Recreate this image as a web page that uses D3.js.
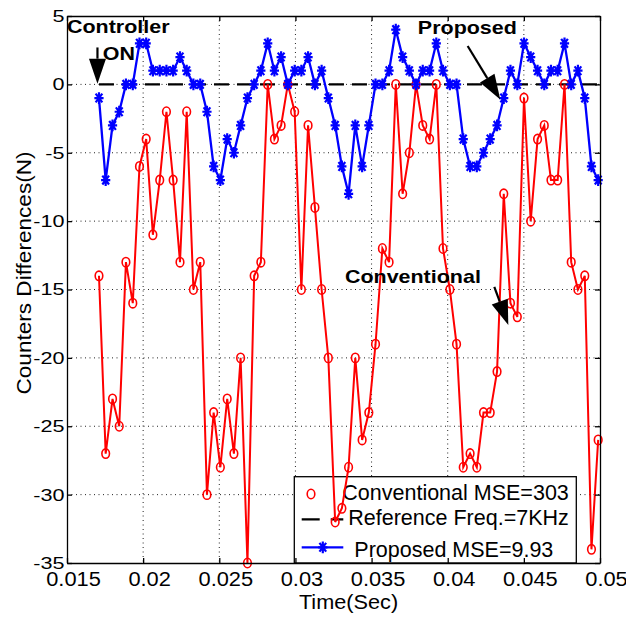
<!DOCTYPE html>
<html>
<head>
<meta charset="utf-8">
<script src="https://cdn.jsdelivr.net/npm/d3@7"></script>
<style>
  body { margin: 0; background: #fff; }
  svg text { font-family: "Liberation Sans", Arial, sans-serif; fill: #000; }
</style>
</head>
<body>
<svg id="chart"></svg>
<script>
const timeSec = [
  0.01710, 0.01754, 0.01799, 0.01843, 0.01887, 0.01932, 0.01976, 0.02020, 0.02064, 0.02109,
  0.02153, 0.02197, 0.02242, 0.02286, 0.02330, 0.02375, 0.02419, 0.02463, 0.02507, 0.02552,
  0.02596, 0.02640, 0.02685, 0.02729, 0.02773, 0.02818, 0.02862, 0.02906, 0.02950, 0.02995,
  0.03039, 0.03083, 0.03128, 0.03172, 0.03216, 0.03261, 0.03305, 0.03349, 0.03393, 0.03438,
  0.03482, 0.03526, 0.03571, 0.03615, 0.03659, 0.03704, 0.03748, 0.03792, 0.03836, 0.03881,
  0.03925, 0.03969, 0.04014, 0.04058, 0.04102, 0.04147, 0.04191, 0.04235, 0.04279, 0.04324,
  0.04368, 0.04412, 0.04457, 0.04501, 0.04545, 0.04590, 0.04634, 0.04678, 0.04722, 0.04767,
  0.04811, 0.04855, 0.04900, 0.04944, 0.04988
];

const conventional = [
  -14, -27, -23, -25, -13, -16, -6, -4, -11, -7,
  -2, -7, -13, -2, -15, -13, -30, -24, -28, -23,
  -27, -20, -35, -14, -13, 0, -4, -3, 0, -2,
  -15, -3, -9, -15, -20, -32, -31, -28, -20, -26,
  -24, -19, -12, -13, 0, -8, -5, 0, -3, -4,
  0, -12, -15, -19, -28, -27, -28, -24, -24, -21,
  -8, -16, -17, -1, -10, -4, -3, -7, -7, 0,
  -13, -15, -14, -34, -26
];

const proposed = [
  -1, -7, -3, -2, 0, 0, 3, 3, 1, 1,
  1, 1, 2, 1, 0, 0, -2, -6, -7, -4,
  -5, -3, -1, 0, 1, 3, 1, 2, 0, 1,
  1, 2, 0, 1, -1, -3, -6, -8, -3, -6,
  -3, 0, 0, 1, 4, 2, 1, 0, 1, 1,
  3, 1, 0, 0, -4, -6, -6, -5, -4, -3,
  -1, 1, 0, 3, 2, 1, 0, 1, 1, 3,
  0, 1, -1, -6, -7
];

const refTime = [0.0171, 0.0499];
const refLevel = [0, 0];

const xTicks = [0.015, 0.02, 0.025, 0.03, 0.035, 0.04, 0.045, 0.05];
const yTicks = [5, 0, -5, -10, -15, -20, -25, -30, -35];
const legendLabels = ['Conventional MSE=303', 'Reference Freq.=7KHz', 'Proposed MSE=9.93'];

const chartSize = {width: 626, height: 617};
const margin = {left: 67, right: 26, top: 16, bottom: 54};
const width = chartSize.width - margin.left - margin.right;
const height = chartSize.height - margin.top - margin.bottom;

// MATLAB style '*' marker
const starSymbol = {
  draw(context, size) {
    const r = Math.sqrt(size) / 2;
    context.moveTo(0, -r * 1.4); context.lineTo(0, r * 1.4);
    context.moveTo(-r * 1.1, 0); context.lineTo(r * 1.1, 0);
    context.moveTo(-r * 0.8, -r * 1.05); context.lineTo(r * 0.8, r * 1.05);
    context.moveTo(-r * 0.8, r * 1.05); context.lineTo(r * 0.8, -r * 1.05);
  }
};

const addLabel = (g, text, x, y, {size = 21, sx = 1, weight = 'normal', anchor = 'start', rotate = 0} = {}) =>
  g.append('text')
      .attr('transform', `translate(${x},${y}) rotate(${rotate}) scale(${sx},1)`)
      .attr('font-size', size)
      .attr('font-weight', weight)
      .attr('text-anchor', anchor)
      .text(text);

const drawArrow = (g, x, y, from, to) => {
  const x0 = x(from[0]), y0 = y(from[1]), x1 = x(to[0]), y1 = y(to[1]);
  const len = Math.hypot(x1 - x0, y1 - y0);
  const ux = (x1 - x0) / len, uy = (y1 - y0) / len;
  const headLen = 25, headHalf = 8.5;
  const bx = x1 - ux * headLen, by = y1 - uy * headLen;
  g.append('line')
      .attr('x1', x0).attr('y1', y0).attr('x2', bx).attr('y2', by)
      .attr('stroke', '#000').attr('stroke-width', 2.2);
  g.append('path')
      .attr('d', `M${x1},${y1}L${bx - uy * headHalf},${by + ux * headHalf}L${bx + uy * headHalf},${by - ux * headHalf}Z`)
      .attr('fill', '#000');
};

const drawChart = () => {
  const svg = d3.select('#chart')
      .attr('width', chartSize.width)
      .attr('height', chartSize.height);

  const g = svg.append('g')
      .attr('transform', `translate(${margin.left},${margin.top})`);

  const x = d3.scaleLinear().domain([0.015, 0.05]).range([0, width]);
  const y = d3.scaleLinear().domain([-35, 5]).range([height, 0]);

  // dotted grid
  g.append('g')
      .attr('class', 'grid')
      .selectAll('line.gx')
      .data(xTicks.slice(1, -1))
      .join('line')
      .attr('x1', d => x(d)).attr('x2', d => x(d))
      .attr('y1', 0).attr('y2', height);
  g.select('.grid')
      .selectAll('line.gy')
      .data(yTicks.slice(1, -1))
      .join('line')
      .attr('class', 'gy')
      .attr('x1', 0).attr('x2', width)
      .attr('y1', d => y(d)).attr('y2', d => y(d));
  g.selectAll('.grid line')
      .attr('stroke', '#222')
      .attr('stroke-width', 1)
      .attr('stroke-dasharray', '1,3.5');

  // legend box sits under the data
  const legend = g.append('g')
      .attr('transform', `translate(${294.3 - margin.left},${476.7 - margin.top})`);
  legend.append('rect')
      .attr('width', 282).attr('height', height - (476.7 - margin.top))
      .attr('fill', '#fff').attr('stroke', '#000').attr('stroke-width', 1.3);

  // reference
  const refLine = d3.line().x((d, i) => x(refTime[i])).y(d => y(d));
  g.append('path')
      .attr('d', refLine(refLevel))
      .attr('fill', 'none').attr('stroke', '#000')
      .attr('stroke-width', 2.2).attr('stroke-dasharray', '15,8');

  // conventional
  const line = d3.line().x((d, i) => x(timeSec[i])).y(d => y(d));
  g.append('path')
      .attr('d', line(conventional))
      .attr('fill', 'none').attr('stroke', '#ff0000').attr('stroke-width', 2);
  g.append('g')
      .selectAll('ellipse')
      .data(conventional)
      .join('ellipse')
      .attr('cx', (d, i) => x(timeSec[i]))
      .attr('cy', d => y(d))
      .attr('rx', 3.8).attr('ry', 4.7)
      .attr('fill', 'none').attr('stroke', '#ff0000').attr('stroke-width', 1.6);

  // proposed
  const star = d3.symbol().type(starSymbol).size(70);
  g.append('path')
      .attr('d', line(proposed))
      .attr('fill', 'none').attr('stroke', '#0000ff').attr('stroke-width', 2.3);
  g.append('g')
      .selectAll('path')
      .data(proposed)
      .join('path')
      .attr('transform', (d, i) => `translate(${x(timeSec[i])},${y(d)})`)
      .attr('d', star())
      .attr('fill', 'none').attr('stroke', '#0000ff').attr('stroke-width', 2.2);

  // axes (box with inward ticks)
  const xAxis = g.append('g')
      .attr('transform', `translate(0,${height})`)
      .call(d3.axisBottom(x).tickValues(xTicks).tickSizeInner(-5).tickSizeOuter(0)
          .tickPadding(9).tickFormat(d => String(d)));
  xAxis.selectAll('text')
      .attr('font-size', 19.5)
      .attr('font-family', null)
      .attr('x', 6 / 1.12)
      .attr('transform', 'scale(1.12,1)');

  const yAxis = g.append('g')
      .call(d3.axisLeft(y).tickValues(yTicks).tickSizeInner(-5).tickSizeOuter(0)
          .tickPadding(2).tickFormat(d => String(d)));
  yAxis.selectAll('text')
      .attr('font-size', 17)
      .attr('transform', 'scale(1.27,1)');

  g.append('g')
      .call(d3.axisTop(x).tickValues(xTicks).tickSizeInner(-5).tickSizeOuter(0).tickFormat(''));
  g.append('g')
      .attr('transform', `translate(${width},0)`)
      .call(d3.axisRight(y).tickValues(yTicks).tickSizeInner(-5).tickSizeOuter(0).tickFormat(''));

  g.selectAll('.domain, .tick line').attr('stroke', '#000').attr('stroke-width', 1.3);
  g.selectAll('.tick text').attr('font-family', null).attr('fill', '#000');

  // axis titles
  addLabel(svg, 'Time(Sec)', 348.5, 609, {size: 20, sx: 1.085, anchor: 'middle'});
  addLabel(svg, 'Counters Differences(N)', 31, 273, {size: 20, sx: 1.13, anchor: 'middle', rotate: -90});

  // annotations
  addLabel(g, 'Controller', x(0.015), y(3.74), {size: 19, sx: 1.13, weight: 'bold'});
  addLabel(g, 'ON', x(0.01735), y(1.8), {size: 19, sx: 1.13, weight: 'bold'});
  drawArrow(g, x, y, [0.0170, 2.7], [0.0170, 0.05]);

  addLabel(g, 'Proposed', x(0.03804), y(3.71), {size: 19, sx: 1.13, weight: 'bold'});
  drawArrow(g, x, y, [0.04131, 2.81], [0.04345, -1.1]);

  addLabel(g, 'Conventional', x(0.03325), y(-14.54), {size: 19, sx: 1.13, weight: 'bold'});
  drawArrow(g, x, y, [0.04306, -14.8], [0.04398, -17.6]);

  // legend entries
  legend.append('ellipse')
      .attr('cx', 16.7).attr('cy', 17.3).attr('rx', 3.8).attr('ry', 4.7)
      .attr('fill', 'none').attr('stroke', '#ff0000').attr('stroke-width', 1.6);
  addLabel(legend, legendLabels[0], 48, 23.3, {size: 21.5});

  legend.append('line')
      .attr('x1', 7.4).attr('x2', 49).attr('y1', 42.6).attr('y2', 42.6)
      .attr('stroke', '#000').attr('stroke-width', 2.2).attr('stroke-dasharray', '18,11');
  addLabel(legend, legendLabels[1], 54, 48.3, {size: 21.5});

  legend.append('line')
      .attr('x1', 7.4).attr('x2', 49).attr('y1', 70.6).attr('y2', 70.6)
      .attr('stroke', '#0000ff').attr('stroke-width', 2.3);
  legend.append('path')
      .attr('transform', 'translate(28.5,70.6)')
      .attr('d', star())
      .attr('fill', 'none').attr('stroke', '#0000ff').attr('stroke-width', 2.2);
  addLabel(legend, legendLabels[2], 60, 80.6, {size: 21.5});
};

drawChart();
</script>
</body>
</html>
